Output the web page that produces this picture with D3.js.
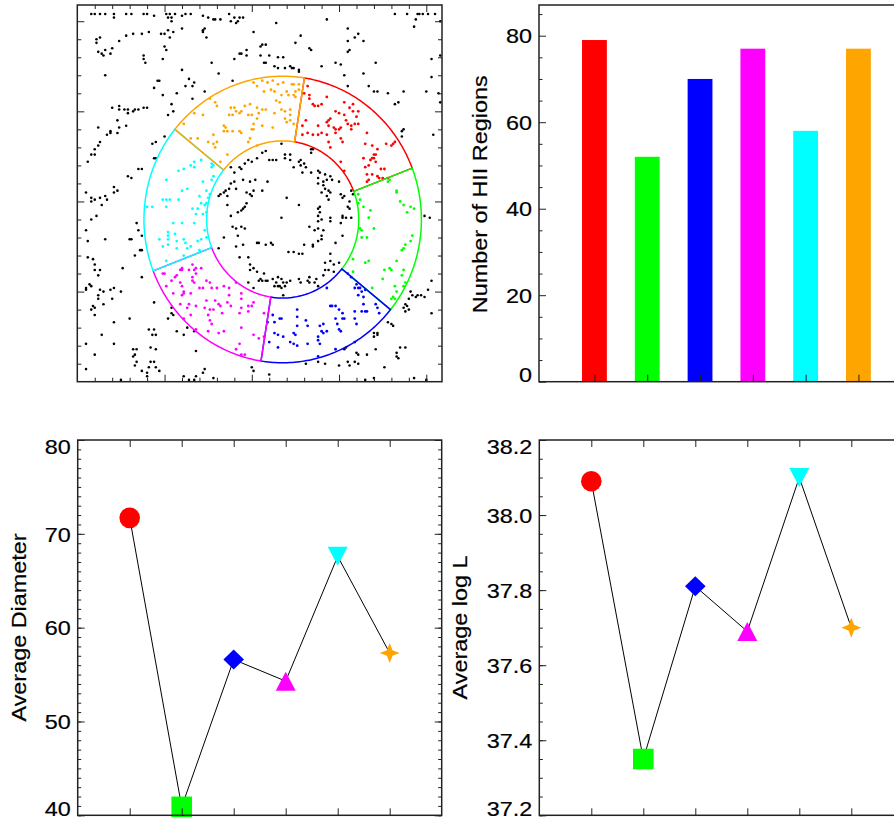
<!DOCTYPE html>
<html>
<head>
<meta charset="utf-8">
<script src="https://cdn.jsdelivr.net/npm/d3@7"></script>
<style>
  body { margin: 0; background: #fff; }
  svg { display: block; background: #fff; }
  text { font-family: 'Liberation Sans', Arial, sans-serif; font-size: 20px; fill: #000; stroke: #000; stroke-width: 0.2px; }
</style>
</head>
<body>
<svg id="chart"></svg>
<script>
'use strict'

// six sectors of the annulus, same order in every panel
const sectorIds = [1, 2, 3, 4, 5, 6]
const regionCounts = [79, 52, 70, 77, 58, 77]
const avgDiameter = [71.7, 40.9, 56.6, 54.3, 67.6, 57.3]
const avgLogL = [38.09, 37.35, 37.81, 37.69, 38.10, 37.70]

const countTicks = [0, 20, 40, 60, 80]
const diameterTicks = [40, 50, 60, 70, 80]
const logLTicks = [37.2, 37.4, 37.6, 37.8, 38.0, 38.2]
const mapTicks = [10, 20, 30, 40, 50, 60, 70, 80, 90, 100, 110, 120, 130, 140, 150, 160, 170, 180, 190, 200]
const mapMajorTicks = [50, 100, 150, 200]

// annulus in map units, angles in degrees (counter-clockwise from +x)
const ringCenter = [117.7, 90]
const ringRadii = [43.6, 79.5]
const sectorStart = 81
const sectorSpan = 60

// HII region positions (map units)
const mapBlack = [
  [8, 204], [10, 204], [13, 204], [16, 204], [21, 204], [21, 202], [28, 204], [31, 204], [38, 204], [40, 204], [44, 203], [51, 204], [53, 204], [52, 202], [54, 202], [54, 200], [56, 204], [60, 203], [62, 204], [65, 204], [72, 203], [75, 202], [78, 201], [79, 201], [82, 201], [87, 204], [88, 200], [90, 202], [91, 199], [92, 200], [93, 202], [95, 202],
  [11, 190], [13, 191], [11, 188], [24, 189], [28, 192], [32, 193], [37, 193], [41, 194], [48, 193], [50, 193], [52, 195], [53, 191], [55, 194], [60, 196], [73, 196], [72, 195], [72, 194], [74, 191], [101, 194],
  [12, 183], [14, 182], [15, 181], [16, 184], [19, 182], [20, 185], [38, 181], [38, 179], [39, 177], [50, 186], [51, 184], [49, 179], [90, 179], [93, 182], [94, 182], [97, 184], [97, 181],
  [16, 170], [77, 177], [60, 173], [81, 171], [89, 167], [46, 167], [47, 167], [44, 163], [64, 168], [62, 164], [67, 166], [66, 164], [73, 161], [57, 160], [49, 159], [66, 157],
  [20, 152], [24, 153], [24, 151], [27, 151], [29, 151], [29, 149], [32, 150], [33, 151], [35, 151], [38, 152], [40, 152], [54, 154], [55, 150], [52, 148], [23, 145], [28, 142], [24, 141], [12, 141],
  [114, 199], [143, 201], [155, 196], [128, 192], [125, 188], [133, 185], [134, 184], [105, 186], [106, 187], [108, 187], [110, 181], [105, 181], [107, 177], [108, 177], [115, 180], [118, 180], [113, 175], [115, 174], [119, 174], [122, 175], [123, 174], [124, 174], [127, 173], [127, 172], [155, 189], [156, 184], [155, 183], [159, 191], [161, 193], [164, 189], [140, 175], [148, 177], [151, 176], [153, 170], [155, 164], [164, 171], [171, 177], [167, 164], [170, 161], [172, 161], [178, 160], [187, 161], [182, 154], [184, 155], [186, 139], [182, 204], [189, 204], [194, 201], [195, 204], [196, 204], [198, 204], [201, 204], [205, 204], [193, 197], [208, 200], [203, 179], [208, 181], [203, 169], [200, 161], [207, 160], [208, 155],
  [17, 137], [19, 139], [19, 138], [23, 138], [13, 133], [12, 131], [10, 129], [8, 126], [10, 126], [6, 122], [5, 105], [8, 102], [8, 100], [10, 101], [13, 102], [14, 98], [17, 101], [16, 103], [21, 108], [23, 106], [21, 105], [11, 92], [8, 90], [5, 84], [6, 78], [16, 79], [30, 79], [31, 79], [34, 88], [35, 84], [37, 81], [36, 73], [37, 73], [31, 113], [29, 114], [35, 118], [37, 118], [44, 124], [45, 124], [43, 132], [45, 133], [50, 136],
  [88, 119], [90, 116], [93, 119], [94, 118], [96, 121], [98, 123], [100, 122], [103, 124], [95, 112], [90, 111], [88, 110], [87, 107], [85, 106], [84, 105], [82, 104], [81, 103], [86, 103], [91, 107], [97, 105], [99, 104], [101, 106], [100, 103], [97, 99], [96, 97], [95, 96], [94, 95], [92, 94], [86, 98], [88, 92], [89, 86], [91, 85], [94, 86], [96, 85], [92, 81], [84, 80], [91, 75], [95, 76], [103, 77], [81, 74], [99, 111], [102, 112],
  [117, 132], [106, 127], [108, 128], [110, 123], [112, 123], [114, 123], [119, 126], [119, 124], [122, 126], [122, 123], [124, 119], [127, 122], [128, 123], [130, 121], [128, 120], [131, 119], [134, 129], [135, 129], [134, 127], [134, 116], [129, 116], [138, 117], [139, 116], [142, 115], [145, 114], [143, 112], [146, 112], [150, 111], [141, 111], [138, 113], [138, 110], [141, 109], [142, 107], [144, 106], [140, 105], [143, 103], [144, 101], [145, 105], [151, 104], [152, 102], [153, 103], [157, 106], [158, 104], [156, 100], [155, 97], [156, 96], [152, 92], [154, 91], [157, 91], [152, 91], [151, 88], [145, 91], [145, 89], [139, 97], [138, 96], [139, 94], [138, 92], [138, 89], [140, 90], [133, 86], [136, 84], [138, 85], [141, 84], [140, 81], [140, 79], [138, 78], [135, 76], [135, 75], [130, 76], [127, 71], [124, 72], [121, 72], [129, 71], [108, 76], [104, 77], [112, 76], [111, 77], [109, 111], [106, 106], [117, 91], [120, 102], [127, 98], [152, 81], [148, 77], [145, 71], [187, 140], [186, 136], [204, 137], [199, 92], [202, 91],
  [6, 69], [9, 68], [10, 65], [13, 62], [10, 62], [12, 59], [7, 54], [5, 52], [5, 51], [8, 53], [13, 51], [15, 50], [19, 51], [21, 52], [25, 50], [12, 48], [12, 46], [9, 42], [10, 41], [8, 40], [10, 37], [15, 43], [20, 46], [26, 63], [33, 70], [37, 58], [44, 44], [30, 35], [21, 33], [14, 26], [5, 21], [10, 15], [21, 21], [41, 29], [44, 29], [43, 26], [45, 26], [52, 35], [54, 38], [55, 37], [54, 41], [57, 28], [63, 30], [61, 26], [67, 28], [68, 17], [32, 18], [34, 18], [33, 15], [32, 14], [34, 11], [33, 9], [37, 6], [42, 19], [45, 18], [42, 11], [41, 8], [40, 5], [40, 3], [44, 11], [45, 8], [47, 6], [5, 7], [25, 1], [61, 3], [64, 1], [67, 1], [68, 3], [72, 5], [73, 7], [78, 2], [93, 69], [98, 69], [99, 65], [99, 62], [101, 63], [103, 61], [105, 57], [101, 52], [98, 55], [100, 8], [101, 6],
  [142, 66], [145, 67], [147, 65], [150, 66], [142, 62], [144, 62], [147, 61], [141, 59], [137, 57], [136, 55], [138, 53], [133, 58], [132, 56], [133, 55], [127, 57], [128, 55], [122, 56], [120, 55], [117, 57], [118, 55], [115, 58], [114, 55], [115, 53], [116, 53], [117, 52], [119, 53], [113, 53], [112, 57], [109, 56], [107, 60], [106, 56], [104, 56], [108, 56], [118, 48],
  [191, 50], [192, 48], [194, 47], [195, 48], [197, 48], [199, 47], [201, 51], [203, 56], [190, 46], [188, 43], [187, 41], [189, 42], [188, 39], [190, 40], [203, 38], [180, 32], [181, 31], [178, 33], [172, 27], [170, 27], [172, 26], [170, 25], [185, 19], [188, 19], [183, 16], [183, 14], [184, 13], [171, 18], [166, 15], [161, 15], [160, 16], [159, 11], [161, 10], [156, 9], [155, 11], [154, 19], [153, 18], [150, 9], [142, 10], [138, 11], [131, 10], [176, 8], [170, 2], [165, 1], [110, 4], [200, 1], [193, 2]
]
const mapRed = [
  [132, 164], [130, 160], [133, 159], [133, 157], [135, 154], [136, 153], [138, 153], [143, 158], [148, 150], [153, 155], [158, 154], [156, 152], [161, 150], [131, 145], [129, 142], [138, 142], [143, 144], [144, 145], [145, 146], [147, 141], [148, 140], [150, 140], [151, 141], [153, 148], [154, 145], [155, 143], [157, 142], [159, 143], [161, 143], [160, 147],
  [129, 137], [132, 138], [135, 137], [138, 137], [140, 138], [144, 133], [145, 130], [166, 138], [165, 132], [169, 131], [170, 126], [171, 126], [172, 129], [170, 124], [177, 132], [180, 131], [181, 132], [182, 133], [165, 119], [168, 123], [169, 124], [171, 122], [166, 115], [167, 112], [166, 111], [169, 115], [172, 114], [173, 113], [175, 113], [174, 118], [176, 118], [178, 113], [153, 117], [151, 122],
  [140, 154], [150, 149], [157, 140], [158, 150], [144, 142], [143, 137], [151, 135], [152, 133], [148, 138], [167, 120], [164, 124]
]
const mapGreen = [
  [179, 112], [178, 111], [183, 106], [183, 105], [185, 100], [187, 98], [189, 94], [193, 96], [161, 104], [162, 101], [161, 99], [164, 97], [168, 95], [167, 91], [170, 85], [162, 85], [163, 84], [163, 80], [166, 80], [192, 81], [191, 78], [188, 76], [187, 74], [186, 73],
  [158, 68], [165, 66], [167, 67], [179, 63], [180, 62], [183, 67], [187, 62], [186, 59], [188, 55], [187, 53], [183, 50], [181, 47], [180, 46], [182, 46], [175, 57], [169, 52], [158, 61], [182, 53], [176, 62], [191, 97]
]
const mapBlue = [
  [155, 60], [157, 58], [160, 54], [159, 52], [161, 52], [162, 52], [163, 50], [165, 51], [161, 48], [164, 47], [171, 43], [172, 41], [173, 38], [165, 39], [166, 39], [159, 39], [159, 35], [160, 32], [153, 35], [152, 35], [148, 35], [149, 32], [145, 42], [146, 42], [148, 42], [150, 29], [151, 28], [143, 28], [139, 31], [140, 28], [141, 27], [138, 25], [138, 23], [139, 21], [132, 21], [131, 34], [132, 31], [126, 40], [126, 36], [126, 31], [124, 27], [125, 26], [122, 22], [124, 21], [126, 20], [118, 25], [115, 26], [113, 27], [116, 35], [117, 35], [113, 33], [112, 37], [110, 22], [138, 14], [143, 52],
  [109, 33], [115, 19], [141, 32], [150, 40], [152, 38], [164, 43], [163, 39], [159, 22], [148, 18]
]
const mapMagenta = [
  [49, 60], [50, 60], [56, 58], [51, 53], [57, 59], [59, 62], [60, 63], [60, 62], [64, 62], [67, 62], [68, 63], [71, 63], [66, 58], [66, 56], [67, 55], [59, 55], [61, 49], [60, 48], [61, 50], [65, 49], [55, 49], [64, 43], [63, 41], [68, 42], [70, 52], [72, 52], [74, 56], [76, 55], [77, 52], [80, 52], [84, 53], [87, 52], [91, 55], [79, 45], [81, 43], [82, 42], [83, 38], [88, 42], [87, 48], [94, 49], [94, 46], [94, 41], [98, 42], [98, 39], [100, 42], [73, 41], [76, 40], [78, 40], [75, 37], [76, 34], [77, 32], [81, 27], [84, 28], [94, 30], [101, 26], [93, 21], [91, 18], [94, 15], [96, 15], [68, 29], [107, 38], [107, 25], [101, 44], [75, 28], [61, 35], [65, 37], [59, 43],
  [54, 56], [60, 53], [66, 65], [68, 60], [74, 45], [86, 44], [93, 38], [104, 24]
]
const mapCyan = [
  [65, 120], [67, 119], [71, 123], [77, 121], [77, 119], [78, 120], [58, 117], [61, 118], [51, 112], [72, 111], [78, 114], [77, 112], [60, 106], [63, 107], [70, 103], [74, 106], [76, 104], [75, 102], [74, 99], [73, 98], [49, 101], [51, 101], [53, 101], [58, 101], [43, 97], [51, 97], [66, 96], [69, 96], [71, 99], [72, 93], [74, 94], [68, 93], [55, 88], [60, 88], [67, 88], [52, 83], [52, 81], [52, 79], [56, 82], [57, 78], [61, 79], [62, 77], [73, 84], [71, 79], [74, 80], [47, 79], [49, 75], [57, 74], [65, 75], [40, 97], [51, 67], [61, 70],
  [52, 76], [63, 74], [69, 78], [70, 73], [67, 122]
]
const mapOrange = [
  [101, 166], [103, 164], [76, 157], [79, 155], [80, 153], [67, 149], [72, 148], [88, 152], [90, 152], [89, 148], [91, 150], [93, 149], [94, 150], [96, 153], [98, 148], [100, 148], [87, 148], [84, 142], [85, 141], [103, 152], [103, 146], [100, 140],
  [106, 167], [109, 166], [112, 167], [115, 165], [118, 166], [123, 165], [124, 165], [127, 165], [107, 161], [113, 161], [116, 155], [117, 159], [120, 161], [121, 159], [124, 159], [125, 158], [125, 161], [127, 162], [114, 156], [108, 151], [113, 149], [117, 151], [119, 150], [122, 151], [122, 148], [119, 146], [120, 144], [122, 145], [124, 143], [112, 141], [106, 142],
  [65, 135], [69, 135], [78, 137], [78, 132], [80, 133], [79, 130], [84, 139], [86, 139], [89, 139], [93, 139], [94, 138], [101, 140], [98, 133], [99, 135], [103, 131], [86, 126], [82, 122],
  [61, 143], [75, 133], [101, 143], [104, 149], [106, 151], [99, 154], [111, 162]
]
const sectorPoints = [mapRed, mapGreen, mapBlue, mapMagenta, mapCyan, mapOrange]

// ---- layout / style ----
const width = 894
const height = 820
const stretch = 1.17
const ink = '#222'
const colors = ['#ff0000', '#00ff00', '#0000ff', '#ff00ff', '#00ffff', '#ffa500']
const shapes = ['circle', 'square', 'diamond', 'triangle', 'triangleDown', 'star']

const boxes = {
  map: { left: 77.3, right: 442, top: 5, bottom: 381.7 },
  counts: { left: 539, right: 908.6, top: 5, bottom: 381.7 },
  diameter: { left: 77.7, right: 441.7, top: 440, bottom: 815.3 },
  logL: { left: 539.3, right: 903.3, top: 440, bottom: 815.3 }
}

const markerPaths = {
  circle: d3.symbol(d3.symbolCircle, Math.PI * 10.3 * 10.3)(),
  square: 'M-10.3,-10.3H10.3V10.3H-10.3Z',
  diamond: 'M0,-10L10.3,0L0,10L-10.3,0Z',
  triangle: 'M0,-9.5L10,9.5L-10,9.5Z',
  triangleDown: 'M-10,-9.5L10,-9.5L0,9.5Z',
  star: 'M0,-10L2.8,-2.8L10,0L2.8,2.8L0,10L-2.8,2.8L-10,0L-2.8,-2.8Z'
}

const svg = d3.select('#chart')
  .attr('width', width)
  .attr('height', height)

function frame (box) {
  svg.append('rect')
    .attr('x', box.left)
    .attr('y', box.top)
    .attr('width', box.right - box.left)
    .attr('height', box.bottom - box.top)
    .attr('fill', 'none')
    .attr('stroke', ink)
    .attr('stroke-width', 1.5)
}

function addTicks (box, side, scale, values, size, format) {
  const axisFn = { left: d3.axisLeft, right: d3.axisRight, top: d3.axisTop, bottom: d3.axisBottom }[side]
  const at = {
    left: `translate(${box.left},0)`,
    right: `translate(${box.right},0)`,
    top: `translate(0,${box.top})`,
    bottom: `translate(0,${box.bottom})`
  }[side]
  const g = svg.append('g')
    .attr('transform', at)
    .call(axisFn(scale)
      .tickValues(values)
      .tickSizeInner(-size)
      .tickSizeOuter(0)
      .tickPadding(7)
      .tickFormat(format || (() => '')))
    .attr('font-size', null)
    .attr('font-family', null)
  g.select('.domain').remove()
  g.selectAll('.tick line').attr('stroke', ink).attr('stroke-width', 1)
  if (!format) {
    g.selectAll('.tick text').remove()
    return g
  }
  // labels at the ends of the axis stay inside it
  const [lo, hi] = scale.domain()
  g.selectAll('.tick text')
    .attr('x', -7 / stretch)
    .attr('transform', `scale(${stretch},1)`)
    .attr('dy', d => Math.abs(d - hi) < 1e-9 ? '0.68em' : Math.abs(d - lo) < 1e-9 ? '0em' : '0.36em')
  return g
}

function yTitle (x, y, label) {
  svg.append('text')
    .attr('transform', `translate(${x},${y}) rotate(-90) scale(${stretch},1)`)
    .attr('text-anchor', 'middle')
    .text(label)
}

// ---- map of HII regions with the annulus ----
function drawMap () {
  const box = boxes.map
  const x = d3.scaleLinear().domain([0, 209]).range([box.left, box.right])
  const y = d3.scaleLinear().domain([0, 209]).range([box.bottom, box.top])
  const line = d3.line().x(d => x(d[0])).y(d => y(d[1]))

  svg.append('g')
    .selectAll('circle')
    .data(mapBlack)
    .join('circle')
    .attr('cx', d => x(d[0]))
    .attr('cy', d => y(d[1]))
    .attr('r', 1.3)
    .attr('fill', '#000')

  sectorPoints.forEach((pts, i) => {
    svg.append('g')
      .selectAll('circle')
      .data(pts)
      .join('circle')
      .attr('cx', d => x(d[0]))
      .attr('cy', d => y(d[1]))
      .attr('r', 1.4)
      .attr('fill', colors[i])
  })

  const rim = (r, from, to) => d3.range(0, 61).map(k => {
    const a = (from + (to - from) * k / 60) * Math.PI / 180
    return [ringCenter[0] + r * Math.cos(a), ringCenter[1] + r * Math.sin(a)]
  })
  sectorIds.forEach((id, i) => {
    const a1 = sectorStart - i * sectorSpan
    const a0 = a1 - sectorSpan
    svg.append('path')
      .attr('d', line(rim(ringRadii[1], a0, a1).concat(rim(ringRadii[0], a1, a0))) + 'Z')
      .attr('fill', 'none')
      .attr('stroke', colors[i])
      .attr('stroke-width', 1.5)
  })

  const minor = mapTicks.filter(t => !mapMajorTicks.includes(t))
  addTicks(box, 'left', y, minor, 4)
  addTicks(box, 'left', y, mapMajorTicks, 7)
  addTicks(box, 'right', y, minor, 4)
  addTicks(box, 'right', y, mapMajorTicks, 7)
  addTicks(box, 'bottom', x, minor, 4)
  addTicks(box, 'bottom', x, mapMajorTicks, 7)
  addTicks(box, 'top', x, minor, 4)
  addTicks(box, 'top', x, mapMajorTicks, 7)
  frame(box)
}

// ---- number of regions per sector ----
function drawCounts () {
  const box = boxes.counts
  const x = d3.scaleLinear().domain([-0.05, 6.95]).range([box.left, box.right])
  const y = d3.scaleLinear().domain([0, 87.1]).range([box.bottom, box.top])
  const half = 0.235

  svg.append('g')
    .selectAll('rect')
    .data(regionCounts)
    .join('rect')
    .attr('x', (d, i) => x(sectorIds[i] - half))
    .attr('width', (d, i) => x(sectorIds[i] + half) - x(sectorIds[i] - half))
    .attr('y', d => y(d))
    .attr('height', d => y(0) - y(d))
    .attr('fill', (d, i) => colors[i])

  const minor = d3.range(5, 87, 5).filter(v => !countTicks.includes(v))
  addTicks(box, 'left', y, minor, 3.5)
  addTicks(box, 'left', y, countTicks, 7, d3.format('d'))
  addTicks(box, 'bottom', x, sectorIds, 7)
  frame(box)
  yTitle(487.3, 194.3, 'Number of HII Regions')
}

// ---- average property per sector ----
function drawProfile (box, domain, values, ticks, step, fmt, title, titleX) {
  const x = d3.scaleLinear().domain([0, 7]).range([box.left, box.right])
  const y = d3.scaleLinear().domain(domain).range([box.bottom, box.top])

  svg.append('path')
    .datum(values)
    .attr('d', d3.line().x((d, i) => x(sectorIds[i])).y(d => y(d)))
    .attr('fill', 'none')
    .attr('stroke', '#000')
    .attr('stroke-width', 1)

  svg.append('g')
    .selectAll('path')
    .data(values)
    .join('path')
    .attr('transform', (d, i) => `translate(${x(sectorIds[i])},${y(d)})`)
    .attr('d', (d, i) => markerPaths[shapes[i]])
    .attr('fill', (d, i) => colors[i])

  const minor = d3.range(domain[0], domain[1] + step / 2, step)
  addTicks(box, 'left', y, minor, 3.5)
  addTicks(box, 'left', y, ticks, 7, fmt)
  addTicks(box, 'right', y, minor, 3.5)
  addTicks(box, 'right', y, ticks, 7)
  addTicks(box, 'top', x, sectorIds, 7)
  addTicks(box, 'bottom', x, sectorIds, 7)
  frame(box)
  yTitle(titleX, 627.5, title)
}

drawMap()
drawCounts()
drawProfile(boxes.diameter, [40, 80], avgDiameter, diameterTicks, 1, d3.format('d'), 'Average Diameter', 25.7)
drawProfile(boxes.logL, [37.2, 38.2], avgLogL, logLTicks, 0.05, d3.format('.1f'), 'Average log L', 467.3)
</script>
</body>
</html>
